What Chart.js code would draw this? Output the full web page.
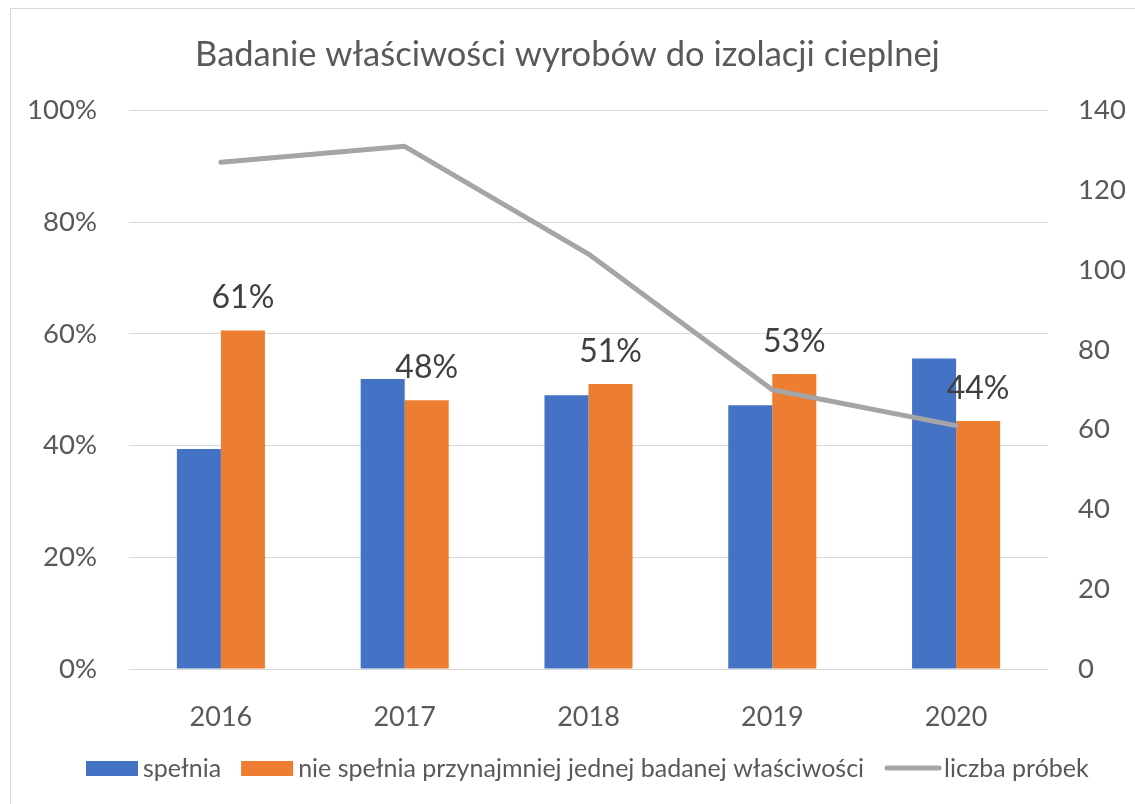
<!DOCTYPE html>
<html lang="pl">
<head>
    <meta charset="UTF-8">
    <title>Badanie właściwości wyrobów do izolacji cieplnej</title>
    <script src="https://cdn.jsdelivr.net/npm/chart.js"></script>
    <style>
        body, html {
            margin: 0;
            padding: 0;
            overflow: hidden;
            background: #fff;
        }
        .frame {
            position: absolute;
            left: 10px;
            top: 8px;
            width: 1200px;
            height: 900px;
            border: 1px solid #d9d9d9;
        }
        .chart-container {
            position: absolute;
            left: 0;
            top: 0;
            width: 1135px;
            height: 804px;
        }
    </style>
</head>
<body>
    <div class="frame"></div>
    <div class="chart-container">
        <canvas id="chart" width="1135" height="804"></canvas>
    </div>
    <script>
        const years = ['2016', '2017', '2018', '2019', '2020'];
        // udział procentowy wyrobów
        const spelnia = [39.4, 51.9, 49.0, 47.2, 55.6];
        const nieSpelnia = [60.6, 48.1, 51.0, 52.8, 44.4];
        // liczba próbek
        const liczbaProbek = [127, 131, 104, 70, 61];
        const percentTicks = [0, 20, 40, 60, 80, 100];

        const FONT = 'Lato';
        const TEXT = '#595959';

        // podpisy nad słupkami "nie spełnia"
        const barLabels = {
            id: 'barLabels',
            afterDatasetsDraw(chart) {
                const ctx = chart.ctx;
                const meta = chart.getDatasetMeta(1);
                ctx.save();
                ctx.font = '32px ' + FONT;
                ctx.fillStyle = '#404040';
                ctx.textAlign = 'center';
                ctx.textBaseline = 'alphabetic';
                meta.data.forEach((bar, i) => {
                    ctx.fillText(Math.round(nieSpelnia[i]) + '%', bar.x, bar.y - 22);
                });
                ctx.restore();
            }
        };

        // legenda w stylu Excela
        const bottomLegend = {
            id: 'bottomLegend',
            afterDraw(chart) {
                const ctx = chart.ctx;
                const y = 768;
                let x = 86;
                ctx.save();
                ctx.font = '25px ' + FONT;
                ctx.fillStyle = TEXT;
                ctx.textBaseline = 'middle';
                chart.data.datasets.slice().sort((a, b) => a.legendIndex - b.legendIndex).forEach(ds => {
                    if (ds.type === 'line') {
                        ctx.strokeStyle = ds.borderColor;
                        ctx.lineWidth = 5;
                        ctx.lineCap = 'round';
                        ctx.beginPath();
                        ctx.moveTo(x + 3, y);
                        ctx.lineTo(x + 55, y);
                        ctx.stroke();
                        x += 60;
                    } else {
                        ctx.fillStyle = ds.backgroundColor;
                        ctx.fillRect(x, y - 7, 52, 15);
                        x += 57;
                    }
                    ctx.fillStyle = TEXT;
                    ctx.fillText(ds.label, x, y + 1);
                    x += ctx.measureText(ds.label).width + 20;
                });
                ctx.restore();
            }
        };

        const ctx = document.getElementById('chart').getContext('2d');
        new Chart(ctx, {
            type: 'bar',
            data: {
                labels: years,
                datasets: [
                    {
                        label: 'spełnia',
                        data: spelnia,
                        backgroundColor: '#4472c4',
                        yAxisID: 'y',
                        order: 1,
                        legendIndex: 0
                    },
                    {
                        label: 'nie spełnia przynajmniej jednej badanej właściwości',
                        data: nieSpelnia,
                        backgroundColor: '#ed7d31',
                        yAxisID: 'y',
                        order: 1,
                        legendIndex: 1
                    },
                    {
                        type: 'line',
                        label: 'liczba próbek',
                        data: liczbaProbek,
                        borderColor: '#a5a5a5',
                        backgroundColor: '#a5a5a5',
                        borderWidth: 5,
                        borderCapStyle: 'round',
                        borderJoinStyle: 'round',
                        pointRadius: 0,
                        tension: 0,
                        yAxisID: 'y1',
                        order: 0,
                        legendIndex: 2
                    }
                ]
            },
            options: {
                responsive: false,
                animation: false,
                layout: {
                    padding: { left: 0, right: 0, top: 0, bottom: 55 }
                },
                datasets: {
                    bar: {
                        categoryPercentage: 0.479,
                        barPercentage: 1.0
                    }
                },
                scales: {
                    x: {
                        grid: { display: false },
                        border: { display: false },
                        ticks: {
                            color: TEXT,
                            font: { family: FONT, size: 27 },
                            padding: 24
                        },
                        afterFit(scale) { scale.height = 80; }
                    },
                    y: {
                        position: 'left',
                        min: 0,
                        max: 100,
                        afterBuildTicks(scale) {
                            scale.ticks = percentTicks.map(v => ({ value: v }));
                        },
                        grid: { color: '#d9d9d9', lineWidth: 1, drawTicks: false },
                        border: { display: false },
                        ticks: {
                            color: TEXT,
                            font: { family: FONT, size: 27.5 },
                            padding: 32,
                            callback: v => v + '%'
                        },
                        afterFit(scale) { scale.width = 129; }
                    },
                    y1: {
                        position: 'right',
                        min: 0,
                        max: 140,
                        ticks: {
                            stepSize: 20,
                            color: TEXT,
                            font: { family: FONT, size: 27.5 },
                            padding: 30
                        },
                        grid: { display: false, drawTicks: false },
                        border: { display: false },
                        afterFit(scale) { scale.width = 87; }
                    }
                },
                plugins: {
                    legend: { display: false },
                    tooltip: { enabled: false },
                    title: {
                        display: true,
                        text: 'Badanie właściwości wyrobów do izolacji cieplnej',
                        color: TEXT,
                        font: { family: FONT, size: 34.5, weight: 'normal', lineHeight: 1.2 },
                        padding: { top: 34, bottom: 35 }
                    }
                }
            },
            plugins: [barLabels, bottomLegend]
        });
    </script>
</body>
</html>
